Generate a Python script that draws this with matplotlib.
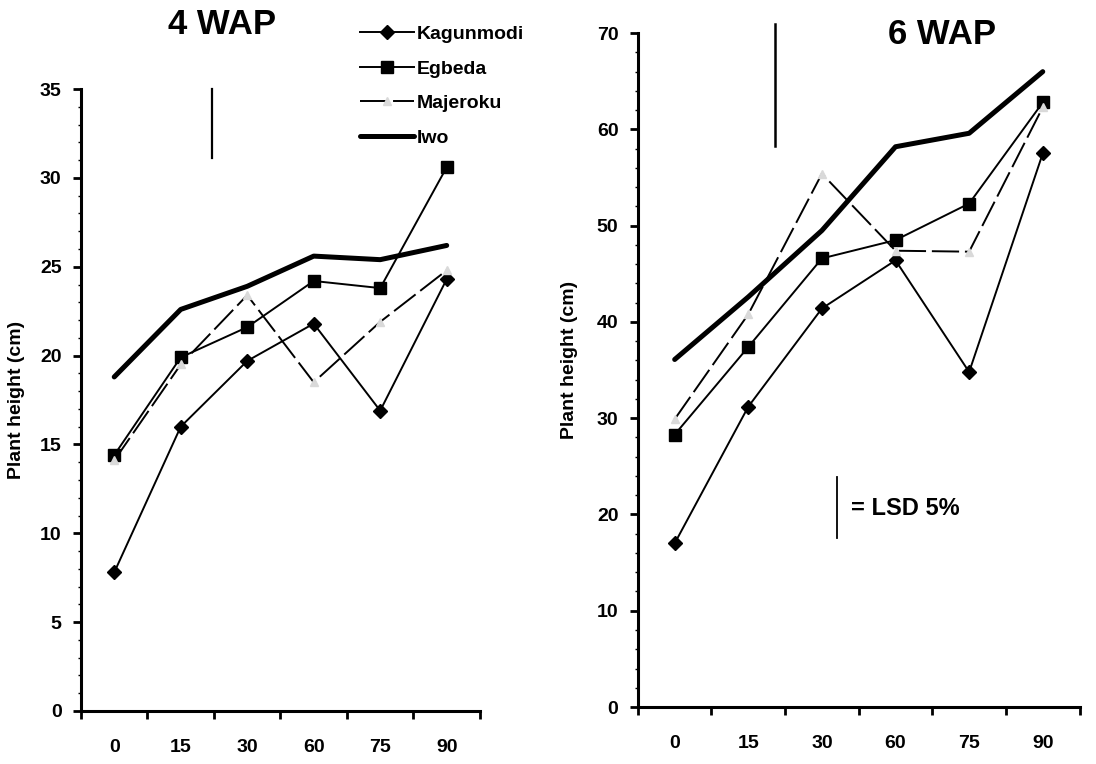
""" Plant height at 4 and 6 WAP for four locations """
import matplotlib
matplotlib.use('Agg')
import matplotlib.pyplot as plt
from matplotlib.ticker import MultipleLocator, FixedLocator

plt.rcParams['font.family'] = ['Liberation Sans', 'DejaVu Sans']
plt.rcParams['font.weight'] = 'bold'

DAYS = ['0', '15', '30', '60', '75', '90']   # x categories
SERIES = ['Kagunmodi', 'Egbeda', 'Majeroku', 'Iwo']

# 4 WAP plant height (cm)
WAP4_KAGUNMODI = [7.8, 16.0, 19.7, 21.8, 16.9, 24.3]
WAP4_EGBEDA = [14.4, 19.9, 21.6, 24.2, 23.8, 30.6]
WAP4_MAJEROKU = [14.1, 19.5, 23.4, 18.5, 21.9, 24.8]
WAP4_IWO = [18.8, 22.6, 23.9, 25.6, 25.4, 26.2]
LSD4 = 3.9

# 6 WAP plant height (cm)
WAP6_KAGUNMODI = [17.0, 31.2, 41.4, 46.4, 34.8, 57.5]
WAP6_EGBEDA = [28.3, 37.4, 46.6, 48.5, 52.3, 62.8]
WAP6_MAJEROKU = [29.9, 40.8, 55.4, 47.4, 47.3, 62.3]
WAP6_IWO = [36.1, 42.6, 49.5, 58.2, 59.6, 66.0]
LSD6 = 12.6

STYLES = {
    'Kagunmodi': dict(color='black', lw=1.4, marker='D', ms=7),
    'Egbeda': dict(color='black', lw=1.4, marker='s', ms=8),
    'Majeroku': dict(color='black', lw=1.4, ls=(0, (14, 3)), marker='^', ms=6,
                     mfc='#d9d9d9', mec='#d9d9d9'),
    'Iwo': dict(color='black', lw=3.6, solid_capstyle='round'),
}


def panel(ax, data, ymax, ystep, yminor):
    """Draw one panel"""
    x = list(range(len(DAYS)))
    lines = []
    for name, vals in zip(SERIES, data):
        ln, = ax.plot(x, vals, label=name, **STYLES[name])
        lines.append(ln)
    ax.set_xlim(-0.5, len(DAYS) - 0.5)
    ax.set_ylim(0, ymax)
    ax.spines['top'].set_visible(False)
    ax.spines['right'].set_visible(False)
    ax.spines['left'].set_linewidth(2.2)
    ax.spines['bottom'].set_linewidth(2.2)
    ax.set_xticks(x)
    ax.set_xticklabels(DAYS, fontsize=14, fontweight='bold')
    ax.tick_params(axis='x', which='major', length=0, pad=20)
    ax.xaxis.set_minor_locator(FixedLocator([i - 0.5 for i in range(len(DAYS) + 1)]))
    ax.tick_params(axis='x', which='minor', length=6, width=2, direction='out')
    ax.yaxis.set_major_locator(MultipleLocator(ystep))
    ax.yaxis.set_minor_locator(MultipleLocator(yminor))
    ax.tick_params(axis='y', which='major', length=6, width=2, direction='out',
                   labelsize=14, pad=8)
    ax.tick_params(axis='y', which='minor', length=2, width=1)
    for lab in ax.get_yticklabels():
        lab.set_fontweight('bold')
    ax.set_ylabel('Plant height (cm)', fontsize=14, fontweight='bold')
    return lines


fig = plt.figure(figsize=(10.96, 7.64), dpi=100)
ax1 = fig.add_axes([0.0739, 0.0694, 0.364, 0.814])
ax2 = fig.add_axes([0.582, 0.0746, 0.403, 0.882])

lines = panel(ax1, [WAP4_KAGUNMODI, WAP4_EGBEDA, WAP4_MAJEROKU, WAP4_IWO], 35, 5, 1)
panel(ax2, [WAP6_KAGUNMODI, WAP6_EGBEDA, WAP6_MAJEROKU, WAP6_IWO], 70, 10, 2)
ax1.yaxis.set_label_coords(-0.14, 0.5)
ax2.yaxis.set_label_coords(-0.135, 0.515)

# LSD bars
ax1.plot([1.47, 1.47], [35, 35 - LSD4], color='black', lw=1.6, clip_on=False)
ax2.plot([1.36, 1.36], [70.9, 70.9 - LSD6], color='black', lw=1.8, clip_on=False)
ax2.plot([2.2, 2.2], [23.9, 17.6], color='black', lw=1.3)
ax2.text(2.4, 20.6, '= LSD 5%', fontsize=17, fontweight='bold', va='center')

# titles
fig.text(222 / 1096, 1 - 24 / 764, '4 WAP', fontsize=25, fontweight='bold',
         ha='center', va='center')
fig.text(942 / 1096, 1 - 35 / 764, '6 WAP', fontsize=25, fontweight='bold',
         ha='center', va='center')

fig.legend(handles=lines, loc='upper left', bbox_to_anchor=(346 / 1096, 1 - 12 / 764),
           frameon=False, handlelength=2.8, handletextpad=0.15,
           labelspacing=0.87, borderpad=0.2,
           prop={'weight': 'bold', 'size': 14})

plt.savefig('out.png', dpi=100)
